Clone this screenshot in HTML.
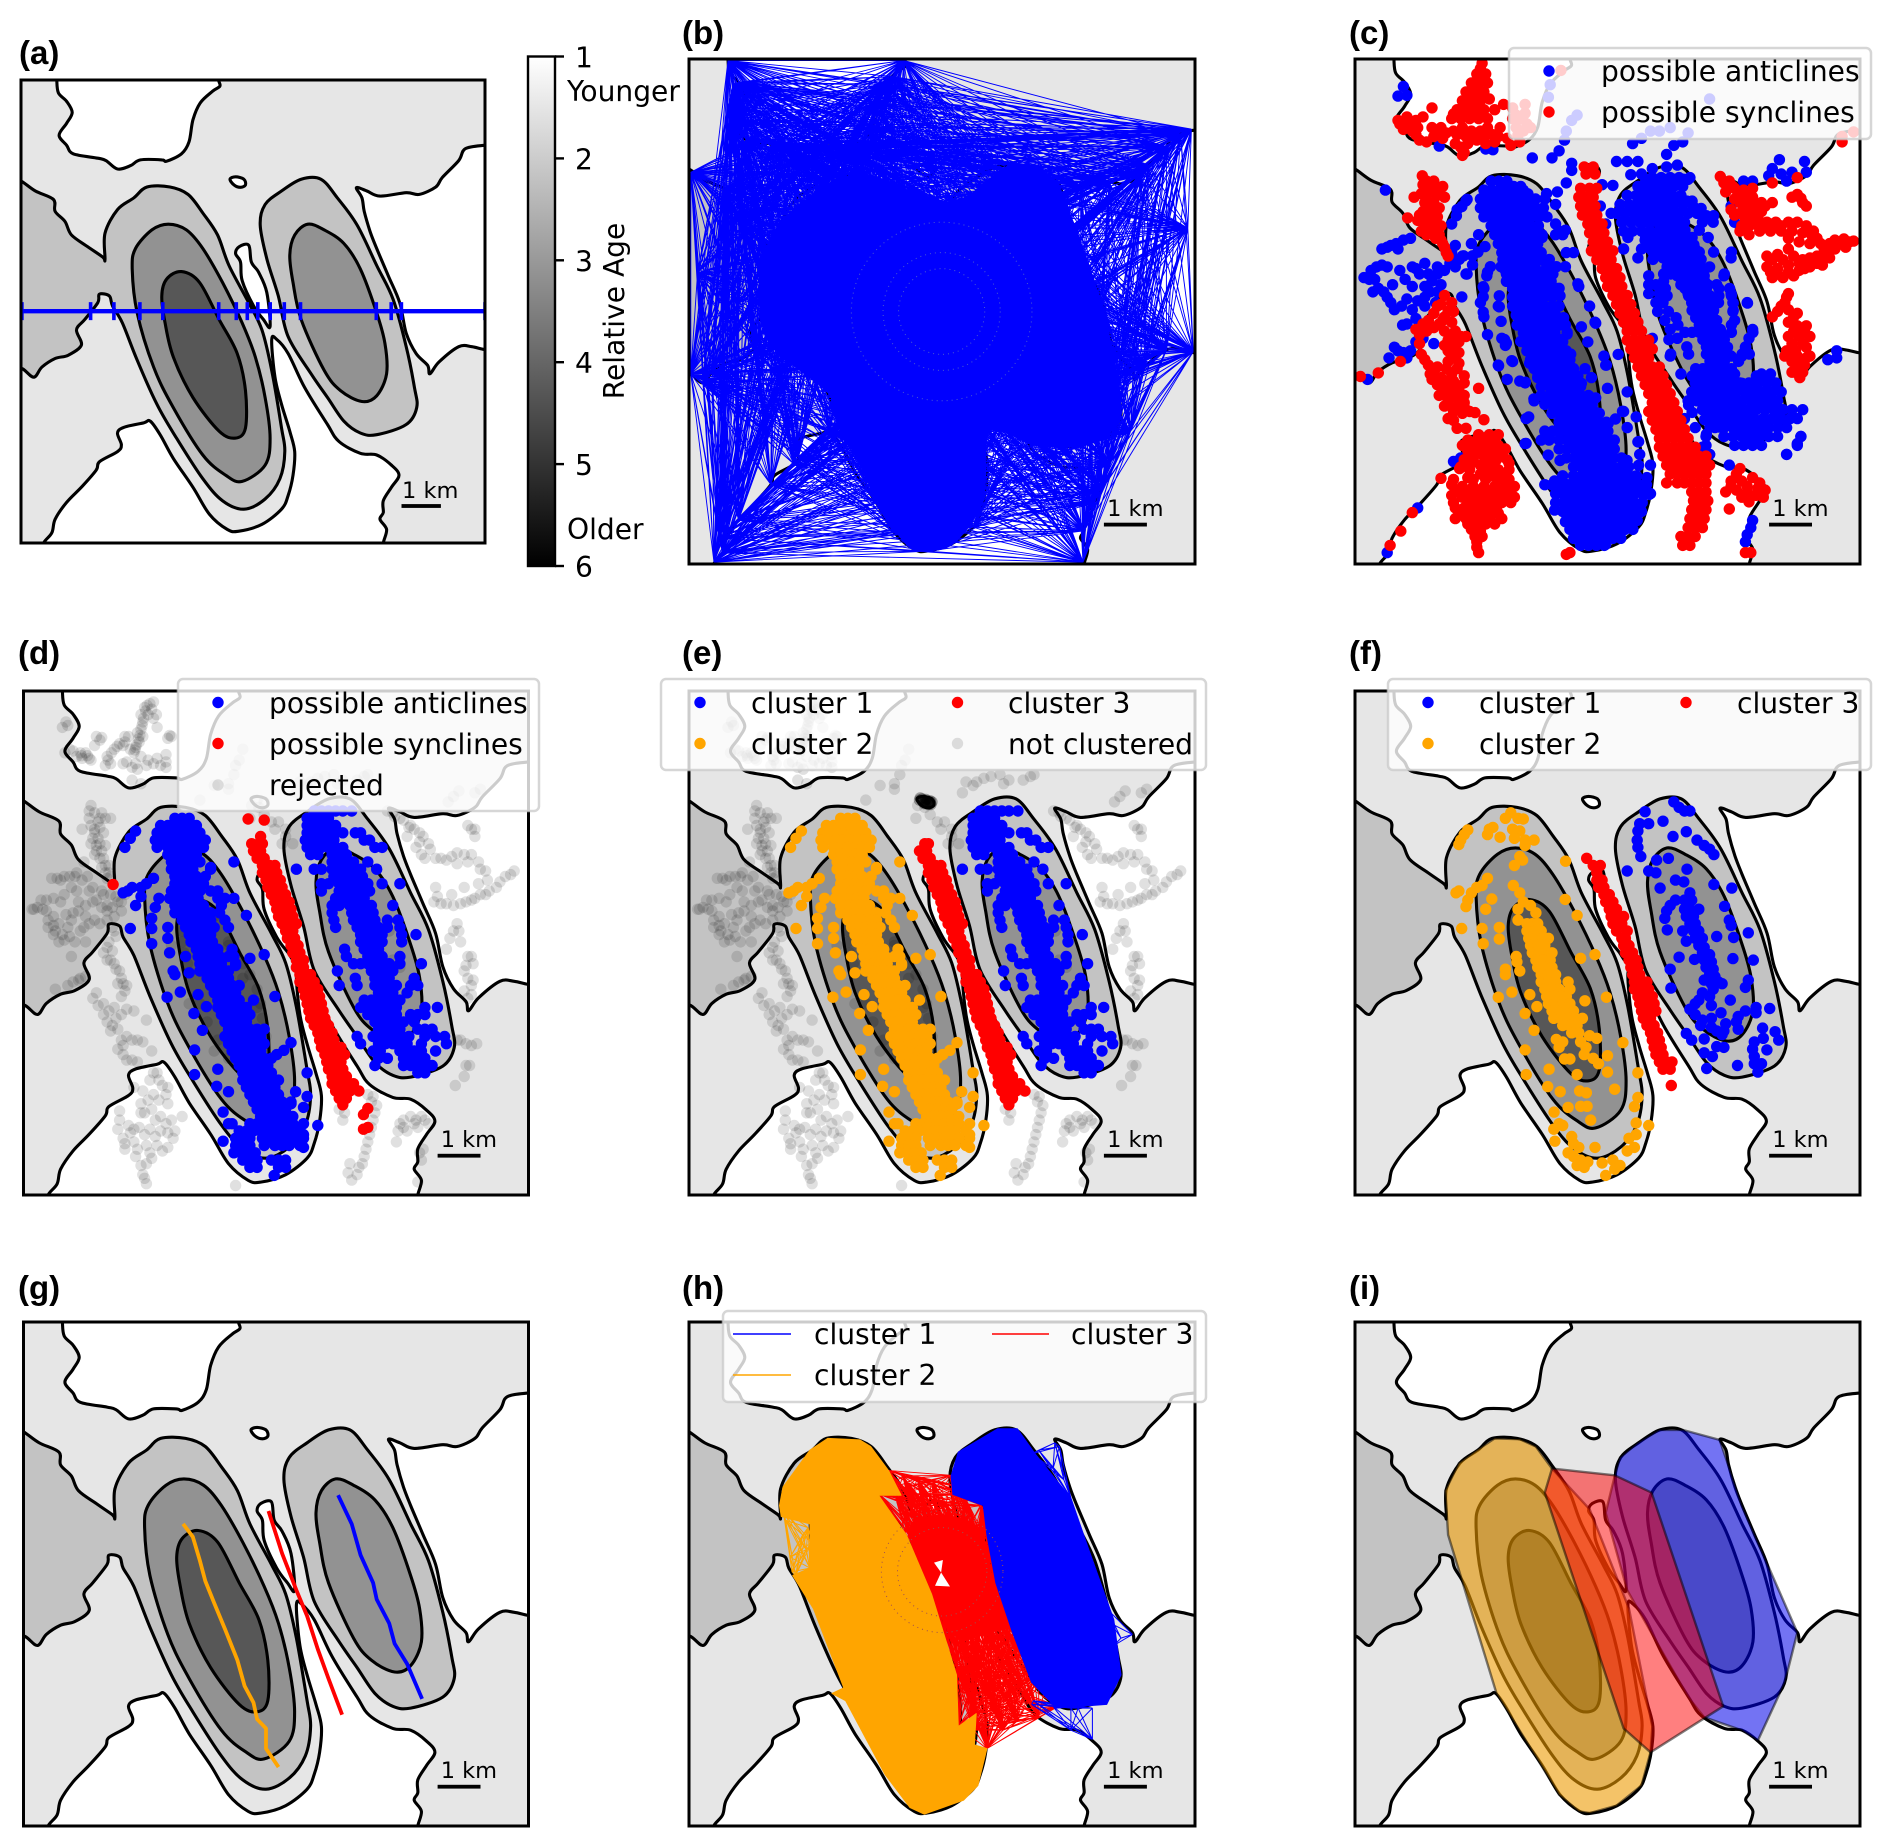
<!DOCTYPE html>
<html lang="en">
<head>
<meta charset="utf-8">
<title>Fold detection workflow panels</title>
<style>
html,body{margin:0;padding:0;background:#fff;}
svg{display:block;}
.lbl{font-family:"Liberation Sans",Arial,sans-serif;font-weight:700;font-size:33px;fill:#000;}
.t{font-family:"DejaVu Sans",sans-serif;font-size:28.1px;fill:#000;}
.leg{fill:#fff;fill-opacity:.8;stroke:#ccc;stroke-opacity:.8;stroke-width:2.5;}
.frame{fill:none;stroke:#000;stroke-width:3;}
</style>
</head>
<body>
<svg xmlns="http://www.w3.org/2000/svg" width="1892" height="1847" viewBox="0 0 1892 1847">
<defs>
<linearGradient id="cbar" x1="0" y1="0" x2="0" y2="1"><stop offset="0" stop-color="#fff"/><stop offset="1" stop-color="#000"/></linearGradient>
<clipPath id="clip-a"><rect x="21" y="80" width="464" height="463"/></clipPath>
<clipPath id="clip-b"><rect x="689" y="59" width="506" height="505"/></clipPath>
<clipPath id="clip-c"><rect x="1355" y="59" width="505" height="505"/></clipPath>
<clipPath id="clip-d"><rect x="23.5" y="691" width="505" height="504"/></clipPath>
<clipPath id="clip-e"><rect x="689" y="691" width="506" height="504"/></clipPath>
<clipPath id="clip-f"><rect x="1355" y="691" width="505" height="504"/></clipPath>
<clipPath id="clip-g"><rect x="23.5" y="1322" width="505" height="504"/></clipPath>
<clipPath id="clip-h"><rect x="689" y="1322" width="506" height="504"/></clipPath>
<clipPath id="clip-i"><rect x="1355" y="1322" width="505" height="504"/></clipPath>
</defs>

<g>
<g id="marks-a" clip-path="url(#clip-a)"></g>
<rect class="frame" x="21" y="80" width="464" height="463"/>
<text class="lbl" x="19" y="64">(a)</text>
</g>

<g>
<rect x="528" y="56.5" width="27" height="509.5" fill="url(#cbar)" stroke="#000" stroke-width="2.4"/>
<g id="cbar-ticks"></g>
<text class="t" x="567" y="101">Younger</text>
<text class="t" x="567" y="539">Older</text>
<text class="t" transform="translate(624,311) rotate(-90)" text-anchor="middle">Relative Age</text>
</g>

<g>
<g id="marks-b" clip-path="url(#clip-b)"></g>
<rect class="frame" x="689" y="59" width="506" height="505"/>
<text class="lbl" x="682" y="44">(b)</text>
</g>

<g>
<g id="marks-c" clip-path="url(#clip-c)"></g>
<rect class="frame" x="1355" y="59" width="505" height="505"/>
<text class="lbl" x="1349" y="44">(c)</text>
<g>
<rect class="leg" x="1509" y="48" width="362" height="91" rx="5"/>
<circle cx="1549" cy="71" r="5.7" fill="#00f"/>
<text class="t" x="1601" y="81">possible anticlines</text>
<circle cx="1549" cy="112" r="5.7" fill="#f00"/>
<text class="t" x="1601" y="122">possible synclines</text>
</g>
</g>

<g>
<g id="marks-d" clip-path="url(#clip-d)"></g>
<rect class="frame" x="23.5" y="691" width="505" height="504"/>
<text class="lbl" x="18" y="664">(d)</text>
<g>
<rect class="leg" x="178" y="679" width="361" height="132" rx="5"/>
<circle cx="218" cy="702.5" r="5.7" fill="#00f"/>
<text class="t" x="269" y="713">possible anticlines</text>
<circle cx="218" cy="743.5" r="5.7" fill="#f00"/>
<text class="t" x="269" y="754">possible synclines</text>
<circle cx="218" cy="785" r="5.7" fill="#000" fill-opacity=".12"/>
<text class="t" x="269" y="795">rejected</text>
</g>
</g>

<g>
<g id="marks-e" clip-path="url(#clip-e)"></g>
<rect class="frame" x="689" y="691" width="506" height="504"/>
<text class="lbl" x="682" y="664">(e)</text>
<g>
<rect class="leg" x="661" y="679" width="545" height="91" rx="5"/>
<circle cx="700" cy="702.5" r="5.7" fill="#00f"/>
<text class="t" x="751" y="713">cluster 1</text>
<circle cx="700" cy="743.5" r="5.7" fill="#ffa500"/>
<text class="t" x="751" y="754">cluster 2</text>
<circle cx="957.5" cy="702.5" r="5.7" fill="#f00"/>
<text class="t" x="1008" y="713">cluster 3</text>
<circle cx="957.5" cy="743.5" r="5.7" fill="#000" fill-opacity=".12"/>
<text class="t" x="1008" y="754">not clustered</text>
</g>
</g>

<g>
<g id="marks-f" clip-path="url(#clip-f)"></g>
<rect class="frame" x="1355" y="691" width="505" height="504"/>
<text class="lbl" x="1349" y="664">(f)</text>
<g>
<rect class="leg" x="1388" y="679" width="483" height="91" rx="5"/>
<circle cx="1428" cy="702.5" r="5.7" fill="#00f"/>
<text class="t" x="1479" y="713">cluster 1</text>
<circle cx="1428" cy="743.5" r="5.7" fill="#ffa500"/>
<text class="t" x="1479" y="754">cluster 2</text>
<circle cx="1686" cy="702.5" r="5.7" fill="#f00"/>
<text class="t" x="1737" y="713">cluster 3</text>
</g>
</g>

<g>
<g id="marks-g" clip-path="url(#clip-g)"></g>
<rect class="frame" x="23.5" y="1322" width="505" height="504"/>
<text class="lbl" x="18" y="1299">(g)</text>
</g>

<g>
<g id="marks-h" clip-path="url(#clip-h)"></g>
<rect class="frame" x="689" y="1322" width="506" height="504"/>
<text class="lbl" x="682" y="1299">(h)</text>
<g>
<rect class="leg" x="723" y="1311" width="483" height="91" rx="5"/>
<line x1="733" x2="791" y1="1334" y2="1334" stroke="#00f" stroke-width="1.5"/>
<text class="t" x="814" y="1344">cluster 1</text>
<line x1="733" x2="791" y1="1375" y2="1375" stroke="#ffa500" stroke-width="1.5"/>
<text class="t" x="814" y="1385">cluster 2</text>
<line x1="992" x2="1049" y1="1334" y2="1334" stroke="#f00" stroke-width="1.5"/>
<text class="t" x="1071" y="1344">cluster 3</text>
</g>
</g>

<g>
<g id="marks-i" clip-path="url(#clip-i)"></g>
<rect class="frame" x="1355" y="1322" width="505" height="504"/>
<text class="lbl" x="1349" y="1299">(i)</text>
</g>
</svg>

<script>
// ---------- map contours ----------
const contourTopWhite=[[175,115],[175,142],[180,180],[205,205],[222,238],[205,270],[182,305],[205,335],[225,360],[300,373],[325,380],[360,405],[400,395],[430,378],[495,378],[510,382],[555,360],[578,325],[590,260],[612,210],[650,175],[672,160],[668,142],[668,115]];
const contourRightWhite=[[1510,335],[1478,335],[1420,345],[1400,380],[1350,430],[1330,458],[1280,480],[1240,475],[1160,485],[1120,470],[1088,460],[1105,490],[1112,530],[1130,590],[1150,640],[1185,720],[1220,800],[1240,890],[1270,950],[1305,985],[1312,1010],[1340,975],[1400,930],[1440,930],[1478,938],[1510,938]];
const contourBottomWhite=[[135,1540],[135,1510],[160,1480],[170,1440],[205,1390],[250,1345],[295,1295],[305,1270],[360,1240],[372,1220],[360,1185],[380,1168],[440,1155],[460,1150],[490,1190],[530,1260],[590,1345],[640,1425],[695,1470],[730,1475],[800,1455],[860,1410],[880,1370],[895,1310],[900,1240],[885,1180],[860,1100],[840,1020],[830,910],[845,908],[880,950],[930,1050],[1000,1160],[1035,1210],[1100,1245],[1150,1250],[1195,1280],[1218,1310],[1195,1345],[1170,1385],[1170,1420],[1160,1440],[1180,1470],[1170,1510],[1170,1540]];
const contourWedge=[[720,655],[730,635],[760,630],[768,680],[790,710],[815,770],[825,870],[805,850],[775,810],[740,735],[735,680]];
const contourEllipse=[[703,435],[720,428],[745,435],[750,452],[735,459],[715,452]];
const contourLeftFold=[[30,425],[66,440],[110,470],[165,495],[170,530],[200,560],[220,600],[270,635],[315,665],[322,672],[322,595],[360,525],[410,490],[450,458],[520,458],[575,480],[620,535],[665,600],[700,690],[760,800],[800,880],[830,1000],[860,1170],[870,1240],[855,1320],[810,1380],[745,1410],[680,1385],[620,1320],[540,1200],[480,1100],[420,970],[375,860],[345,810],[335,780],[305,775],[300,800],[260,850],[235,880],[250,925],[210,955],[170,965],[130,990],[105,1020],[70,995],[30,985]];
const contourRightFold=[[795,570],[810,510],[860,470],[920,435],[980,435],[1030,490],[1090,570],[1150,690],[1200,790],[1240,930],[1265,1050],[1272,1110],[1240,1160],[1150,1190],[1100,1185],[1050,1150],[1000,1080],[950,1010],[880,900],[850,780],[815,670]];
const contourLeftMid=[[405,700],[415,640],[465,585],[515,568],[570,585],[620,640],[680,740],[740,860],[780,960],[810,1080],[825,1200],[810,1280],[740,1328],[690,1310],[620,1250],[530,1110],[470,990],[420,830]];
const contourRightMid=[[885,660],[900,600],[940,568],[990,585],[1050,625],[1100,700],[1150,830],[1175,920],[1180,1010],[1150,1075],[1105,1092],[1040,1060],[990,1000],[920,850],[895,740]];
const contourLeftCore=[[495,780],[510,730],[555,708],[610,740],[670,850],[725,950],[750,1060],[750,1170],[720,1200],[670,1180],[590,1080],[530,960],[505,860]];

// ---------- panel a: section ----------
const sectionCrossings=[50,206,259,318,370,497,537,562,586,614,646,683,855,889,912,1102];
const colorbarTicks=[1,2,3,4,5,6];

// ---------- panel b: pairwise mesh ----------
const meshCoreB=[[250,640],[330,530],[520,430],[780,510],[960,405],[1080,440],[1140,560],[1170,640],[1230,820],[1280,1080],[1250,1150],[1170,1190],[1030,1190],[900,1150],[880,1340],[800,1460],[720,1485],[660,1470],[590,1370],[520,1240],[440,1090],[430,1040],[260,900],[230,740]];
const meshNodesB=[[175,146],[184,305],[225,360],[300,373],[360,405],[430,378],[510,382],[578,325],[612,210],[666,146],[1470,332],[1400,380],[1330,458],[1240,475],[1160,485],[1112,530],[1150,640],[1220,800],[1270,950],[1475,935],[1400,930],[1167,1505],[1170,1420],[1195,1345],[1218,1310],[136,1505],[205,1390],[295,1295],[372,1220],[460,1150],[640,1425],[730,1475],[860,1410],[71,995],[130,990],[250,925],[300,800],[71,449],[165,495],[220,600],[315,670],[190,210],[175,270],[640,190],[1440,345],[1460,600],[1300,1150],[1240,1240],[150,1440],[90,720],[205,205],[325,380],[495,378],[590,260],[1350,430],[1185,720],[1340,975],[160,1480],[360,1240],[590,1345],[105,1020],[200,560]];
const meshHullB=[[175,146],[666,146],[1470,332],[1475,935],[1167,1505],[136,1505],[71,995],[71,449],[200,470],[184,305]];
const meshRingsB=[[170,165],[125,120],[262,250]];

// ---------- scatter rows: [y, x, x, ...] in panel-d reading coordinates ----------
const anticlineLeftRows=[[490,490,510,530],[510,450,470,490,510,530,550],[530,440,460,480,500,520,540,560],[550,435,455,475,495,515,535,555,575],[570,440,470,490,510,530,550,570],[590,470,490,510,530,550],[610,480,500,520,540,560],[630,480,500,520,540,590],[650,490,510,530,550,575],[670,490,510,530,550,570],[690,480,500,520,540,560,590,610],[710,475,495,515,535,555,610,630,655],[730,490,510,530,550,570,620],[750,490,510,530,550,570,590,615],[770,510,530,550,570,590,630],[790,520,540,560,580,600,640],[810,530,550,570,590],[830,535,555,575,595],[850,550,570,590,610,650],[870,555,575,595,615,640,655],[890,560,580,600,620,660],[910,560,580,600,620,640],[930,580,600,620,640],[950,590,610,630,650,670],[970,600,620,640,660],[990,610,630,650,670],[1010,610,630,650,670,690],[1030,620,640,660,680,700],[1050,630,650,670,690],[1070,640,660,680,700,720,740],[1090,630,650,670,690,710,730],[1110,640,660,680,700,720,740],[1130,650,670,690,710,730],[1150,660,680,700,720,740,760],[1170,670,690,710,730,750],[1190,680,700,720,740,760],[1210,680,700,720,740,760,780],[1230,690,710,730,750,770],[1250,700,720,740,760,780],[1270,710,730,750,770,790,815],[1290,720,740,760,780,800],[1310,730,750,770,790,820],[1330,650,700,720,740,760,780,800,820,850],[1350,670,690,710,730,750,770,790,810,840],[1370,660,680,700,735,760,780,800,820,850],[1390,660,680,700,740,770,790,810,840],[1410,655,675,695,715],[1430,680,700,720,760,780,800],[1450,700,720,780,800]];
const anticlineLeftOutliers=[[380,525],[365,545],[350,570],[358,690],[345,695],[370,680],[395,680],[410,670],[430,655],[380,730],[395,705],[445,710],[435,735],[425,765],[365,793],[425,793],[425,835],[470,790],[470,820],[475,860],[485,910],[490,920],[530,915],[520,870],[505,968],[468,982],[555,975],[578,1008],[543,1027],[567,1073],[545,1127],[545,1195],[610,1180],[607,1227],[640,1242],[625,1298],[625,1378],[640,1330],[655,610],[690,757],[740,865],[700,875],[770,980],[710,990],[660,895],[815,1107],[795,1128],[775,1140],[860,1190],[828,1242],[860,1255],[850,1285],[890,1335],[850,1360],[850,1395],[815,1275],[768,1472],[590,625]];
const anticlineRightRows=[[470,880,900,920,940,960,985],[490,860,880,900,920],[510,860,880,900,920,940],[530,860,880,900,920,940,960,995,1010],[550,855,875,895,915,935,1020,1035],[570,860,880,900,920,940,960,1050,1070],[590,870,890,930,950,970],[610,930,950,970,990,1030],[630,830,880,900,930,950,970,990,1010,1055],[650,935,955,975,995,1015],[670,900,920,950,970,990,1010,1030,1070,1120],[690,900,950,970,990,1010,1035],[710,940,960,980,1000,1020],[730,930,950,980,1000,1020,1040,1100],[750,930,985,1005,1025,1045],[770,935,990,1010,1030,1050,1085,1115],[790,940,1000,1020,1040,1060,1085,1120],[810,1010,1030,1050,1070,1125,1165],[830,1010,1030,1050,1070,1125],[850,965,1020,1040,1060],[870,970,1030,1050,1070,1120],[890,990,1010,1030,1050,1070,1090,1120,1180],[910,945,1040,1060,1080,1100],[930,995,1050,1070,1090,1160],[950,950,1000,1050,1070,1090,1110,1150,1170],[970,1060,1080,1100,1140],[990,1020,1040,1060,1080,1100,1120],[1010,1010,1030,1050,1070,1090,1110,1190,1225],[1030,1030,1050,1070,1090,1110,1150,1170,1190],[1050,1050,1070,1090,1110,1130,1160],[1070,1060,1080,1100,1120,1170,1190,1210],[1090,1000,1045,1065,1085,1105,1125,1145,1190,1220,1245],[1110,1010,1060,1080,1100,1120,1140,1180,1250],[1130,1045,1065,1120,1140,1160,1180,1220],[1150,1060,1085,1130,1150,1170,1190],[1170,1050,1130,1150,1170,1190,1210],[1190,1170,1190]];
const synclineRows=[[560,725,735],[580,710,730],[600,720,740],[620,735,755,770],[640,735,755,775],[660,745,765,785],[680,750,770,790],[700,760,780,800],[720,770,790,810],[740,775,795,815],[760,780,800,820],[780,790,810,830],[800,800,820],[820,805,825],[840,815,835],[860,820,840],[880,830,850],[900,830,850],[920,840,860,870],[940,840,860,880],[960,850,870,890],[980,855,875,895],[1000,860,880,900],[1020,865,885,905],[1040,870,890,910],[1060,880,900,920],[1080,890,910,930],[1100,895,915,935],[1120,900,920,940,955],[1140,910,930,950,965],[1160,915,935,955],[1180,920,940,960],[1200,930,950,970],[1220,930,950,970,990],[1240,940,960,980,1005],[1260,950,970],[1278,960]];
const synclineExtrasD=[[695,492],[740,495],[730,540],[705,560],[1030,1288],[1018,1305],[1018,1345],[1030,1340],[317,672]];
const rejectedPoints=[[430,170],[420,175],[405,185],[395,205],[415,205],[430,215],[400,225],[395,245],[385,255],[400,265],[390,280],[380,295],[375,310],[440,240],[475,262],[360,265],[350,280],[335,285],[320,300],[300,320],[310,340],[280,275],[265,290],[240,310],[225,310],[205,305],[190,235],[250,325],[230,325],[355,335],[380,340],[410,345],[440,325],[465,315],[465,350],[370,385],[395,395],[255,455],[285,475],[250,490],[275,500],[265,520],[290,530],[230,520],[310,490],[260,545],[270,565],[285,580],[265,590],[290,600],[305,620],[295,640],[235,610],[215,640],[180,650],[160,655],[200,680],[150,710],[130,715],[95,740],[120,740],[135,770],[155,800],[180,825],[200,870],[215,690],[220,720],[250,690],[270,715],[300,730],[330,720],[260,720],[240,760],[200,770],[225,800],[190,790],[320,760],[340,745],[320,800],[305,830],[290,860],[310,880],[325,905],[340,930],[350,965],[220,935],[270,970],[290,1000],[320,1010],[340,1030],[375,1020],[410,1045],[300,1050],[310,1075],[340,1100],[370,1100],[400,1105],[425,1130],[330,1125],[355,1155],[385,1160],[430,1190],[445,1210],[470,1230],[400,1240],[430,1250],[470,1275],[395,1275],[425,1290],[450,1310],[480,1320],[510,1310],[335,1320],[360,1335],[390,1340],[420,1345],[450,1350],[345,1370],[375,1380],[410,1390],[440,1390],[350,1400],[380,1420],[410,1440],[400,1470],[410,1495],[490,1350],[470,1395],[1120,490],[1150,510],[1175,530],[1200,560],[1165,570],[1190,600],[1220,600],[1250,605],[1280,585],[1310,510],[1330,540],[1320,590],[1340,610],[1360,635],[1440,635],[1415,650],[1390,680],[1360,700],[1320,715],[1290,725],[1250,725],[1215,720],[1220,680],[1300,680],[1340,670],[1280,780],[1260,820],[1250,850],[1290,830],[1320,870],[1300,910],[1320,950],[1310,985],[1280,1100],[1320,1115],[1305,1170],[1275,1225],[1040,1270],[1050,1300],[1040,1340],[1030,1380],[1020,1420],[1005,1450],[980,1440],[985,1485],[950,1290],[960,1320],[1120,1330],[1150,1310],[1180,1310],[1200,1330],[1140,1350],[1110,1380],[1180,1430],[1170,1490],[660,1500],[1000,1240],[720,440],[740,445],[660,345],[680,300],[640,410],[600,400],[560,440],[700,490],[780,500],[800,520],[820,560],[1030,370],[1000,385],[960,385],[890,380],[860,400],[830,420],[1100,475],[1270,430],[1330,420],[600,760],[640,840],[680,930],[720,1010],[740,1080],[1090,800],[1120,900],[480,840],[530,1000],[600,1130]];
const rejectedTrails=[[412,180],[408,195],[402,215],[398,235],[392,262],[388,272],[382,288],[378,302],[425,190],[438,205],[345,290],[328,292],[312,310],[303,330],[295,345],[270,265],[285,268],[195,300],[182,310],[215,320],[228,318],[245,318],[255,330],[470,270],[480,265],[350,265],[365,300],[395,320],[430,340],[450,345],[465,335],[415,330],[345,340],[370,350],[385,355],[185,225],[175,240],[250,470],[265,475],[280,490],[295,490],[255,510],[280,515],[265,530],[275,545],[280,560],[295,565],[255,560],[270,580],[280,600],[295,620],[305,640],[310,650],[300,655],[285,625],[145,655],[170,660],[195,650],[210,650],[230,660],[245,650],[260,680],[285,690],[290,700],[310,700],[325,705],[315,735],[300,745],[285,735],[340,720],[350,700],[115,715],[105,735],[90,740],[130,745],[150,760],[165,780],[175,810],[195,815],[210,830],[165,830],[150,785],[135,790],[240,730],[220,745],[205,750],[185,755],[235,790],[250,780],[265,770],[280,780],[300,770],[180,700],[170,720],[240,830],[150,810],[315,790],[325,815],[300,845],[315,855],[300,880],[320,890],[335,910],[330,945],[345,945],[355,950],[340,980],[225,930],[240,925],[205,940],[190,950],[155,960],[260,985],[275,1005],[305,1020],[325,1040],[355,1015],[290,1030],[315,1060],[330,1070],[355,1090],[385,1100],[345,1115],[345,1140],[370,1155],[440,1190],[420,1210],[455,1225],[465,1250],[415,1265],[445,1265],[405,1300],[435,1320],[465,1330],[395,1300],[375,1345],[405,1360],[435,1365],[470,1355],[365,1355],[350,1385],[385,1400],[420,1410],[395,1445],[405,1480],[330,1345],[335,1295],[485,1370],[455,1405],[425,1425],[375,1230],[1105,485],[1130,495],[1145,515],[1160,520],[1185,540],[1205,575],[1175,555],[1140,540],[1180,590],[1235,600],[1265,595],[1300,590],[1280,615],[1310,610],[1330,520],[1320,520],[1345,630],[1365,660],[1400,665],[1430,645],[1370,690],[1345,700],[1330,710],[1305,720],[1270,730],[1235,725],[1225,705],[1265,700],[1285,800],[1270,800],[1310,870],[1325,890],[1305,895],[1310,930],[1325,935],[1300,965],[1320,975],[1290,1100],[1305,1110],[1335,1110],[1315,1170],[1300,1200],[1045,1255],[1055,1280],[1045,1320],[1035,1360],[1025,1400],[1015,1440],[1030,1250],[975,1465],[1000,1470],[1130,1320],[1165,1320],[1190,1320],[1130,1340],[1170,1340],[1185,1400],[1175,1410],[1160,1330],[1115,1350],[965,1300],[655,370],[670,330],[640,395],[705,455],[725,460],[740,480],[760,500],[770,520],[800,540],[790,560],[840,390],[870,390],[910,375],[935,370],[945,395],[1020,375],[1085,470],[1255,445],[1285,415],[1345,410],[510,800],[510,830],[515,860],[525,890],[640,830],[660,860],[680,890],[700,920],[720,960],[730,1000],[735,1040],[745,1090],[560,1000],[580,1050],[610,1100],[640,1150],[1100,880]];
const ellipseRejectedE=[[710,440],[718,437],[725,442],[732,445],[738,448],[745,445],[728,438],[720,445],[735,452],[742,452],[712,434],[724,450],[730,443],[740,442]];

// ---------- panel c extras (read in panel-c coordinates) ----------
const cBlueLeftRows=[[450,450,472,494],[475,430,452,474,496,518,540],[500,420,442,464,486,508,530,552,574,600],[525,420,442,464,486,508,530,552,574,596],[550,430,452,474,496,518,540,562,584,606],[575,450,472,494,516,538,560,582],[600,460,482,504,526,548,570,592,630,650],[625,470,492,514,536,558,580],[650,480,502,524,546,568,590,660,680],[675,490,512,534,556,578,600],[700,490,512,534,556,578,600],[725,500,522,544,566,588,610],[750,510,532,554,576,598,620,640],[775,510,532,554,576,598,620],[800,510,532,554,576,598,620,640],[825,520,542,564,586,608,630],[850,530,552,574,596,618,640],[875,540,562,584,606,628],[900,540,562,584,606,628,650],[925,550,572,594,616,638,660],[950,560,582,604,626,648,670],[975,570,592,614,636,658,680],[1000,580,602,624,646,668,690],[1025,590,612,634,656,678,700],[1050,590,612,634,656,678,700,722],[1075,600,622,644,666,688,710,732],[1100,620,642,664,686,708,730,752],[1125,640,662,684,706,728,750,772],[1150,600,622,644,666,688,710,732,754,776],[1175,590,612,640,662,684,706,728,750,772,794],[1200,640,662,684,706,728,750,772,794],[1225,660,682,704,726,748,770,792,814],[1250,680,702,724,746,768,790,812,834],[1275,650,680,702,724,746,768,790,812,834,856],[1300,620,642,664,686,708,730,752,774,796,818,840,862,884],[1325,630,652,674,696,718,740,762,784,806,828,850,872,895],[1350,630,652,674,696,718,740,762,784,806,828,850,872],[1375,650,672,694,716,738,760,782,804,826,848,870],[1400,660,682,704,726,748,770,792,814,836,858],[1425,670,692,714,736,758,780,802,824,846],[1450,680,702,724,746,768,790,812],[1470,700,722,744,766]];
const cBlueRightRows=[[440,900,925,950,975],[465,860,885,910,935,960,985],[490,830,855,880,905,930,955,980],[515,810,835,860,885,910,935,960,985,1010],[540,800,825,850,875,900,925,950,975,1000,1025],[565,815,840,865,890,915,940,965,990,1040,1070],[590,820,845,870,895,920,945,970],[615,880,905,930,955,980,1005],[640,820,870,895,920,945,970,995,1020],[665,860,930,955,980,1005,1030,1120],[690,960,985,1010,1035,1060],[715,890,970,995,1020,1045,1100],[740,890,910,980,1005,1030,1055,1080],[765,890,920,1000,1025,1050,1120],[790,910,930,1010,1035,1060,1085,1125,1165],[815,915,945,1020,1045,1070,1125],[840,935,1030,1055,1080,1130],[865,950,1040,1065,1090,1180],[890,900,970,1050,1075,1100,1170],[915,1060,1085,1110,1160],[940,950,1070,1095,1120,1150],[990,980,1030,1055,1080,1105,1130,1205,1230],[1015,1020,1045,1070,1095,1120,1145,1170,1195,1220,1245],[1040,1010,1035,1060,1085,1110,1135,1160,1185,1210,1235,1260],[1065,1000,1025,1050,1075,1100,1125,1150,1175,1200,1225,1250],[1090,1040,1065,1090,1115,1140,1165,1190,1215,1240,1265,1290,1320],[1115,990,1060,1085,1110,1135,1160,1185,1210,1235,1260,1285,1305],[1140,1020,1075,1100,1125,1150,1175,1200,1225,1250,1275],[1165,1050,1100,1125,1150,1175,1200,1225,1250,1315],[1190,1050,1130,1155,1180,1205,1305],[1215,1060,1275]];
const cBlueScatter=[[630,515],[630,570],[640,590],[695,745],[725,800],[740,845],[720,900],[765,940],[805,935],[770,965],[730,1000],[775,1030],[830,1040],[820,1095],[855,1110],[830,1140],[860,1180],[865,1215],[895,1245],[885,1280],[380,505],[355,530],[340,570],[415,600],[395,625],[370,660],[350,690],[380,710],[440,705],[430,750],[420,790],[470,800],[430,830],[440,880],[480,890],[490,910],[470,965],[510,955],[495,1005],[530,1010],[545,1015],[570,1065],[555,1110],[545,1185],[610,1155],[600,1300],[160,635],[185,625],[225,610],[130,690],[160,690],[95,720],[125,725],[135,750],[175,740],[230,690],[265,680],[300,690],[210,725],[250,710],[285,730],[320,700],[335,680],[160,775],[180,810],[215,780],[245,785],[265,775],[295,790],[203,853],[240,835],[290,905],[240,900],[215,945],[190,925],[165,945],[105,1005],[155,475],[350,630],[340,650],[205,185],[190,212],[215,210],[305,352],[435,360],[455,362],[565,385],[620,385],[640,365],[655,335],[660,310],[675,280],[690,265],[615,180],[610,215],[660,455],[635,480],[605,485],[675,400],[675,420],[760,460],[790,462],[800,395],[830,395],[860,395],[845,345],[870,330],[895,310],[920,310],[950,300],[1000,315],[940,375],[960,350],[985,340],[840,432],[870,430],[900,415],[940,410],[970,405],[1005,440],[1060,220],[755,520],[785,540],[770,570],[1000,445],[1180,1400],[1175,1420],[1165,1440],[1160,1460],[1390,950],[1415,925],[1415,945],[1305,1185],[1315,1165],[1275,1215],[1115,1245],[1060,1215],[1040,1195],[1255,390],[1235,415],[1225,435],[1260,430],[1275,450],[1290,425],[1325,395],[1330,425],[1155,450],[1180,450],[1120,520],[1130,565],[160,1490],[245,1365],[345,1235],[365,1225],[145,640],[170,630],[205,615],[115,700],[145,685],[110,725],[120,760],[150,760],[195,700],[240,695],[275,710],[300,710],[230,745],[265,745],[300,760],[200,800],[230,810],[265,800],[170,790],[215,850],[190,640],[310,740],[280,760],[180,915],[205,930],[225,925],[260,890]];
const cRedStripRows=[[410,710,735],[430,715,740],[470,700,725,745],[495,695,715,735],[520,700,720,740],[545,705,725,745],[570,720,740,760],[595,725,745,765],[620,735,755,775],[645,730,750,770,790],[670,745,765,785],[695,760,780,800],[720,770,790,810],[745,775,795,815],[770,790,810,830],[795,800,820,840],[820,810,830,850],[845,820,840,860],[870,830,850,870],[895,830,850,870,890],[920,840,860,880,900],[945,850,870,890],[970,860,880,900,920],[995,870,890,910,930],[1020,880,900,920,940],[1045,890,910,930,950],[1070,900,920,940,960],[1095,890,910,930,950,970],[1120,900,920,940,960,980],[1145,910,930,950,970,990],[1170,920,940,960,980,1000],[1195,920,940,960,980,1000,1020],[1220,930,950,970,990,1010,1030,1050],[1245,940,960,980,1000,1020,1040,1060],[1270,950,970,990,1010,1030,1050],[1295,940,970,990,1010,1030,1050],[1320,1010,1030,1050],[1345,1015,1035,1055],[1370,1010,1030,1050],[1395,1005,1025,1045],[1420,1000,1020,1040],[1445,980,1000,1020],[1470,985,1005]];
const cRedClusterRows=[[1175,385,410,435,460],[1205,385,410,435,460,485],[1230,375,400,435,465,495],[1258,390,435,470,500],[1285,345,400,435,470,500],[1320,350,385,415,445,475,505],[1350,345,385,420,450,480,505],[1380,360,395,425,455,470],[1410,385,410,435,460],[1445,405,425],[1475,410]];
const cRedScatter=[[425,120],[410,150],[435,150],[395,175],[415,175],[440,175],[380,200],[405,200],[430,200],[370,225],[395,225],[420,225],[445,220],[355,250],[380,250],[405,250],[430,250],[285,245],[340,275],[365,275],[390,275],[415,275],[440,275],[460,250],[485,235],[545,235],[510,245],[510,275],[535,275],[560,300],[520,300],[190,280],[215,270],[240,280],[260,270],[205,305],[230,310],[250,335],[285,300],[310,300],[290,325],[315,330],[345,310],[370,300],[395,310],[420,310],[440,300],[470,325],[350,345],[375,370],[385,345],[410,335],[435,345],[505,350],[530,340],[460,340],[645,140],[1430,325],[1462,312],[1430,340],[258,435],[260,460],[255,485],[290,450],[315,465],[320,495],[295,475],[235,495],[265,510],[290,510],[260,535],[285,535],[305,525],[217,553],[245,560],[270,565],[295,565],[255,590],[280,595],[305,600],[315,625],[325,650],[320,770],[340,790],[310,795],[330,815],[290,820],[315,840],[340,845],[260,850],[240,865],[290,860],[320,870],[350,870],[250,905],[330,895],[360,900],[380,885],[255,935],[330,925],[360,930],[275,965],[300,970],[330,955],[360,960],[280,990],[310,1000],[340,990],[375,995],[300,1020],[330,1025],[360,1030],[415,1030],[305,1050],[340,1050],[375,1050],[320,1080],[350,1085],[380,1090],[405,1098],[330,1115],[430,1118],[355,1142],[380,1142],[197,955],[135,987],[85,997],[415,1160],[445,1160],[470,1160],[370,1190],[395,1190],[420,1190],[445,1190],[470,1190],[490,1200],[395,1215],[425,1215],[450,1215],[480,1220],[500,1240],[365,1250],[390,1245],[420,1245],[450,1245],[485,1270],[420,1270],[450,1275],[385,1280],[340,1300],[370,1305],[400,1305],[430,1305],[460,1305],[490,1305],[515,1305],[340,1330],[370,1335],[400,1335],[430,1335],[460,1335],[490,1335],[515,1335],[350,1365],[375,1365],[405,1365],[435,1365],[465,1365],[350,1395],[380,1395],[410,1395],[440,1395],[480,1395],[395,1425],[420,1430],[410,1460],[415,1490],[310,1282],[362,1255],[230,1378],[198,1430],[168,1470],[660,1495],[670,1490],[1090,437],[1115,450],[1105,480],[1130,470],[1155,475],[1180,470],[1130,500],[1155,500],[1180,495],[1205,510],[1130,545],[1155,525],[1180,525],[1205,535],[1235,510],[1235,455],[1305,440],[1305,487],[1320,510],[1330,520],[1145,590],[1170,575],[1195,555],[1220,565],[1245,565],[1170,600],[1200,590],[1230,590],[1260,590],[1280,565],[1305,565],[1330,575],[1350,590],[1280,610],[1310,620],[1340,625],[1360,610],[1410,615],[1435,612],[1462,618],[1380,640],[1410,640],[1440,635],[1360,660],[1395,665],[1220,660],[1250,655],[1280,640],[1340,665],[1220,690],[1250,695],[1280,685],[1310,680],[1340,690],[1375,685],[1235,720],[1265,720],[1295,715],[1325,695],[1280,765],[1270,790],[1250,815],[1235,830],[1305,820],[1280,810],[1280,845],[1305,855],[1330,855],[1280,885],[1310,885],[1340,885],[1275,925],[1300,925],[1340,940],[1290,955],[1315,960],[1300,985],[1320,985],[1312,1000],[1145,1255],[1120,1290],[1150,1290],[1180,1280],[1105,1320],[1135,1315],[1165,1320],[1195,1310],[1215,1315],[1170,1348],[1210,1335],[1115,1368],[1175,1490],[1160,1490],[300,800],[320,830],[345,815],[275,840],[305,850],[250,880],[270,870],[345,880],[365,885],[345,910],[320,910],[265,950],[345,940],[290,980],[325,975],[355,975],[320,1010],[345,1010],[375,1015],[285,1005],[315,1040],[350,1040],[330,1065],[360,1065],[375,1070],[345,1095],[370,1100],[390,1095],[345,1120],[270,450],[275,475],[270,490],[300,490],[275,520],[250,545],[275,550],[300,550],[265,578],[290,580],[310,575],[270,600],[295,610],[310,615],[320,635],[330,660],[420,135],[425,165],[385,215],[405,215],[375,240],[395,240],[415,240],[345,262],[365,262],[390,262],[415,262],[195,290],[225,295],[245,300],[210,290],[240,320],[270,340],[300,315],[325,315],[355,320],[380,325],[405,325],[430,325],[455,320],[365,355],[370,378],[525,320],[540,310],[550,290],[495,330],[520,265],[545,260],[475,300],[1100,455],[1125,465],[1145,485],[1170,490],[1195,515],[1145,510],[1170,510],[1190,525],[1215,520],[1120,530],[1145,540],[1170,545],[1195,550],[1160,560],[1185,570],[1210,575],[1235,575],[1150,575],[1260,575],[1290,590],[1320,595],[1345,600],[1370,625],[1395,625],[1425,625],[1450,620],[1395,645],[1375,665],[1360,680],[1235,670],[1265,670],[1295,660],[1320,670],[1230,705],[1250,710],[1280,705],[1310,700],[1345,680],[1290,495],[1315,498],[1275,775],[1260,800],[1295,830],[1295,870],[1325,870],[1290,905],[1320,905],[1270,940],[1285,940],[1330,915],[1305,940],[1330,945],[1305,970],[1325,965],[1290,985],[1135,1270],[1165,1305],[1120,1305],[1150,1335],[1190,1330],[1200,1295]];

// ---------- panel f (read in panel-f coordinates) ----------
const fOrangePoints=[[385,522],[375,535],[365,550],[360,562],[445,520],[455,515],[440,535],[475,542],[490,490],[505,475],[525,490],[540,492],[510,520],[530,525],[515,545],[545,550],[570,550],[545,565],[530,595],[538,605],[515,620],[658,608],[360,690],[352,695],[440,655],[425,675],[410,680],[395,695],[385,715],[380,733],[452,712],[435,740],[512,675],[530,695],[540,720],[525,740],[525,770],[560,730],[575,750],[657,713],[690,757],[368,793],[425,793],[473,790],[473,822],[428,835],[520,870],[522,885],[530,910],[490,905],[490,920],[740,865],[700,875],[558,975],[508,968],[470,982],[578,1008],[545,1027],[772,982],[712,992],[570,1073],[632,1098],[650,1105],[640,1120],[725,1088],[745,1095],[700,1105],[715,1120],[710,1140],[818,1107],[545,1127],[775,1143],[670,1152],[655,1152],[735,1150],[750,1165],[690,1195],[775,1188],[612,1180],[548,1195],[860,1190],[608,1228],[643,1242],[697,1240],[716,1245],[795,1235],[860,1258],[850,1283],[665,1285],[700,1282],[718,1282],[626,1298],[728,1320],[855,1328],[890,1335],[640,1330],[625,1345],[650,1335],[855,1360],[835,1370],[675,1365],[628,1378],[680,1385],[695,1395],[665,1410],[740,1395],[850,1395],[830,1405],[680,1420],[700,1430],[720,1435],[690,1445],[710,1450],[760,1438],[790,1430],[810,1445],[795,1455],[770,1472]];
const fOrangeRows=[[780,550,565,580],[800,550,570,590],[820,555,575,595,610],[840,560,580,600],[860,565,585,605,620],[880,575,595,615],[900,580,600,620],[920,590,610,630],[940,590,610,630,665],[960,600,620,640,670],[980,605,625,645,660],[1000,610,630,650,670],[1020,620,640,660,680],[1040,625,645,665,685,705],[1060,650,670,690],[1080,675,695]];
const fBluePoints=[[880,472],[960,445],[975,460],[990,470],[1005,470],[865,505],[890,505],[930,498],[860,525],[858,550],[860,570],[868,595],[995,527],[958,540],[1025,550],[1045,565],[1060,575],[1072,590],[830,635],[890,635],[912,605],[945,600],[910,640],[997,630],[965,660],[988,665],[922,682],[1072,672],[1122,682],[1005,695],[990,715],[1010,715],[965,715],[950,730],[940,745],[935,765],[1030,740],[990,740],[1005,740],[995,760],[1015,760],[1005,780],[1020,780],[1030,800],[1015,800],[985,800],[995,828],[1020,820],[1040,820],[1030,840],[1045,845],[1040,860],[1060,865],[1045,880],[1065,885],[1050,900],[1070,905],[1060,920],[1075,925],[1045,935],[1065,945],[1085,940],[1095,945],[1070,960],[1040,970],[1060,980],[1030,990],[942,797],[1102,732],[1115,770],[1120,785],[1168,805],[1080,815],[1127,818],[975,872],[1018,878],[1125,876],[1182,880],[950,905],[1168,935],[1160,955],[952,957],[1118,990],[1065,1005],[1020,1000],[1005,1015],[1020,1030],[1190,1010],[1228,1013],[1190,1025],[1160,1020],[1092,1025],[1065,1040],[1040,1045],[1140,1035],[1135,1050],[1105,1055],[1035,1060],[1065,1065],[1140,1070],[1208,1067],[1100,1075],[1080,1075],[995,1082],[1010,1100],[1045,1097],[1095,1085],[1243,1077],[1185,1105],[1210,1095],[1253,1100],[1180,1125],[1220,1127],[1100,1120],[1080,1118],[1045,1135],[1068,1145],[1185,1145],[1138,1170],[1205,1165],[1185,1165],[1052,1178],[1195,1188]];
const fRedRows=[[600,717],[620,735,755],[640,745],[660,745,760],[680,750,765],[700,765,780],[720,770,790],[740,780,800],[760,785,805,820],[780,790,815],[800,800,830],[820,815,825],[840,820,835],[860,825,845],[880,835,855],[900,840,860],[920,845,865],[940,850,870,885],[960,850,870,890],[980,860,880,900],[1000,865,885,905],[1020,870,890,910],[1040,875,895],[1060,885,905],[1080,895,915],[1100,900,920],[1120,905,925],[1140,910,930],[1160,920,940,955],[1180,930,950],[1225,953]];

// ---------- panel g: fold axes ----------
const axisLeft=[[513,690],[540,725],[560,790],[575,845],[600,905],[630,975],[665,1060],[685,1130],[710,1175],[720,1220],[745,1245],[745,1300],[780,1350]];
const axisRight=[[947,612],[985,690],[1010,775],[1045,850],[1055,895],[1090,960],[1105,1015],[1140,1070],[1182,1165]];
const axisMiddle=[[752,655],[790,770],[830,870],[860,940],[890,1030],[920,1110],[958,1208]];

// ---------- panel h: cluster meshes (read in panel-h coordinates) ----------
const hRedNodes=[[640,545],[680,560],[720,565],[760,570],[815,558],[615,610],[660,620],[700,640],[750,660],[800,640],[850,610],[915,605],[835,1240],[880,1200],[915,1300],[960,1250],[1000,1225],[1060,1215],[1115,1185],[1090,1075],[1040,1040],[1000,1000],[960,1060],[880,1100],[830,1080],[900,900],[900,640],[870,690],[830,900],[960,900],[1060,1100],[1010,1120],[930,1130],[860,1160],[880,1250],[940,1200],[1000,1170]];
const hRedCore=[[700,700],[790,670],[890,700],[930,830],[975,960],[900,985],[815,985],[750,850]];
const hBowtieA=[[767,795],[792,788],[787,822]];
const hBowtieB=[[787,822],[812,860],[770,858]];
const hBlueCore=[[815,560],[835,495],[945,432],[1000,432],[1050,500],[1150,620],[1200,760],[1270,950],[1290,1100],[1250,1180],[1110,1190],[1040,1120],[985,980],[940,850],[915,720],[905,640],[820,610]];
const hBlueFringeTop=[[1040,500],[1060,490],[1105,470],[1118,480],[1130,570],[1100,540],[1150,620]];
const hBlueFringeRight=[[1322,990],[1270,1020],[1262,960],[1290,1000],[1250,920]];
const hBlueFringeBottom=[[1040,1180],[1150,1250],[1210,1275],[1170,1190],[1210,1190],[1150,1190],[1100,1185],[1045,1170]];
const hOrangeCore=[[335,640],[345,590],[420,490],[470,458],[560,462],[590,480],[640,545],[675,612],[612,612],[690,720],[760,880],[830,1100],[835,1240],[885,1205],[880,1290],[915,1300],[890,1400],[850,1440],[740,1478],[700,1460],[630,1370],[520,1170],[482,1150],[515,1135],[430,920],[372,830],[420,810],[420,690],[340,670]];
const hOrangeFringe=[[370,820],[365,780],[352,680],[415,700],[410,760],[420,810],[345,650],[400,720],[380,830],[425,740]];
const hRings=[[170,165],[125,120]];

// ---------- panel i: cluster hulls (read in panel-i coordinates) ----------
const hullOrange=[[322,600],[360,525],[410,490],[460,458],[530,460],[575,480],[620,540],[725,650],[835,920],[900,1240],[895,1310],[870,1400],[800,1455],[725,1475],[695,1470],[640,1425],[590,1345],[465,1150],[330,720]];
const hullRed=[[620,540],[795,558],[898,605],[1098,1185],[895,1310],[820,1245],[600,605]];
const hullBlue=[[795,560],[810,510],[860,470],[920,435],[985,435],[1088,462],[1112,530],[1150,640],[1305,985],[1270,1120],[1195,1278],[1150,1250],[1045,1215],[1000,1160],[900,990],[830,870],[770,660]];

// ---------- layout ----------
const frames={a:[21,80,464,463],b:[689,59,506,505],c:[1355,59,505,505],d:[23.5,691,505,504],e:[689,691,506,504],f:[1355,691,505,504],g:[23.5,1322,505,504],h:[689,1322,506,504],i:[1355,1322,505,504]};
const DOM_MAP=[66,1480,142,1510], DOM_D=[66,1480,140,1526], DOM_C=[70,1480,108,1522], DOM_F=[70,1480,140,1526], DOM_B=[27,1495,108,1522], DOM_H=[82,1497,142,1510], DOM_I=[70,1480,142,1510];
const NS='http://www.w3.org/2000/svg';
const GREY={light:'#e6e6e6',l3:'#c3c3c3',l4:'#929292',l5:'#575757'};
const CONTOUR_W=3.1;

function scale(panel,dom){
  const f=frames[panel];
  return {
    x:v=>f[0]+(v-dom[0])/(dom[1]-dom[0])*f[2],
    y:v=>f[1]+(v-dom[2])/(dom[3]-dom[2])*f[3]
  };
}
function rows(r){
  const out=[];
  r.forEach(row=>{for(let i=1;i<row.length;i++)out.push([row[i],row[0]]);});
  return out;
}
function smooth(pts,s){
  const n=pts.length,P=pts.map(p=>[s.x(p[0]),s.y(p[1])]);
  let d='M'+P[0][0].toFixed(1)+' '+P[0][1].toFixed(1);
  for(let i=0;i<n;i++){
    const p0=P[(i-1+n)%n],p1=P[i],p2=P[(i+1)%n],p3=P[(i+2)%n];
    d+='C'+(p1[0]+(p2[0]-p0[0])/6).toFixed(1)+' '+(p1[1]+(p2[1]-p0[1])/6).toFixed(1)+' '+(p2[0]-(p3[0]-p1[0])/6).toFixed(1)+' '+(p2[1]-(p3[1]-p1[1])/6).toFixed(1)+' '+p2[0].toFixed(1)+' '+p2[1].toFixed(1);
  }
  return d+'Z';
}
function straight(pts,s,close){
  return pts.map((p,i)=>(i?'L':'M')+s.x(p[0]).toFixed(1)+' '+s.y(p[1]).toFixed(1)).join('')+(close?'Z':'');
}
function addPath(g,d,fill,stroke,sw,name,extra){
  const el=document.createElementNS(NS,'path');
  el.setAttribute('d',d);
  el.setAttribute('fill',fill);
  el.setAttribute('stroke',stroke);
  el.setAttribute('stroke-width',sw);
  el.setAttribute('stroke-linejoin','round');
  
  
  if(extra)for(const k in extra)el.setAttribute(k,extra[k]);
  g.appendChild(el);
  return el;
}
function drawMap(g,panel){
  const s=scale(panel,DOM_MAP),f=frames[panel];
  addPath(g,'M'+f[0]+' '+f[1]+'h'+f[2]+'v'+f[3]+'h'+(-f[2])+'Z',GREY.light,'none',0,'map-background');
  addPath(g,smooth(contourTopWhite,s),'#fff','#000',CONTOUR_W,'contour-top-lowland');
  addPath(g,smooth(contourRightWhite,s),'#fff','#000',CONTOUR_W,'contour-right-lowland');
  addPath(g,smooth(contourBottomWhite,s),'#fff','#000',CONTOUR_W,'contour-bottom-lowland');
  addPath(g,smooth(contourLeftFold,s),GREY.l3,'#000',CONTOUR_W,'contour-left-fold-outer');
  addPath(g,smooth(contourRightFold,s),GREY.l3,'#000',CONTOUR_W,'contour-right-fold-outer');
  addPath(g,smooth(contourWedge,s),'#fff','#000',CONTOUR_W,'contour-central-wedge');
  addPath(g,smooth(contourEllipse,s),'#fff','#000',CONTOUR_W,'contour-small-closure');
  addPath(g,smooth(contourLeftMid,s),GREY.l4,'#000',CONTOUR_W,'contour-left-fold-middle');
  addPath(g,smooth(contourRightMid,s),GREY.l4,'#000',CONTOUR_W,'contour-right-fold-middle');
  addPath(g,smooth(contourLeftCore,s),GREY.l5,'#000',CONTOUR_W,'contour-left-fold-core');
}
function dots(g,pts,dom,panel,color,name,r,op){
  const s=scale(panel,dom);
  pts.forEach(p=>{
    const el=document.createElementNS(NS,'circle');
    el.setAttribute('cx',s.x(p[0]).toFixed(1));
    el.setAttribute('cy',s.y(p[1]).toFixed(1));
    el.setAttribute('r',r||5.7);
    el.setAttribute('fill',color);
    if(op)el.setAttribute('fill-opacity',op);
    
    
    g.appendChild(el);
  });
}
function meshPath(nodes,s,hull){
  let d='';
  for(let i=0;i<nodes.length;i++)for(let j=i+1;j<nodes.length;j++){
    const a=nodes[i],b=nodes[j];
    if(hull&&!inside(hull,[(a[0]+b[0])/2,(a[1]+b[1])/2]))continue;
    d+='M'+s.x(a[0]).toFixed(1)+' '+s.y(a[1]).toFixed(1)+'L'+s.x(b[0]).toFixed(1)+' '+s.y(b[1]).toFixed(1);
  }
  return d;
}
function inside(poly,p){
  let c=false;
  for(let i=0,j=poly.length-1;i<poly.length;j=i++){
    const a=poly[i],b=poly[j];
    if((a[1]>p[1])!==(b[1]>p[1])&&p[0]<(b[0]-a[0])*(p[1]-a[1])/(b[1]-a[1])+a[0])c=!c;
  }
  return c;
}
function scaleBar(g,panel){
  const f=frames[panel],h=panel==='a'?.92:.922;
  const bar=document.createElementNS(NS,'rect');
  bar.setAttribute('x',(f[0]+.82*f[2]).toFixed(1));
  bar.setAttribute('y',(f[1]+h*f[3]-1.9).toFixed(1));
  bar.setAttribute('width',(.085*f[2]).toFixed(1));
  bar.setAttribute('height',3.8);
  bar.setAttribute('fill','#000');
  
  
  g.parentNode.appendChild(bar);
  const t=document.createElementNS(NS,'text');
  t.setAttribute('x',(f[0]+.882*f[2]).toFixed(1));
  t.setAttribute('y',(f[1]+(h-.017)*f[3]).toFixed(1));
  t.setAttribute('text-anchor','middle');
  t.setAttribute('font-family','"DejaVu Sans",sans-serif');
  t.setAttribute('font-size','22.5');
  
  
  t.textContent='1 km';
  g.parentNode.appendChild(t);
}
const G=id=>document.getElementById('marks-'+id);

// panel a
(function(){
  const g=G('a');drawMap(g,'a');
  const s=scale('a',[48,1102,168,1464]),y=s.y(815);
  addPath(g,'M'+s.x(48)+' '+y+'H'+s.x(1102),'none','#00f',4.4,'section-line');
  sectionCrossings.forEach(c=>{
    addPath(g,'M'+s.x(c).toFixed(1)+' '+(y-9)+'v18','none','#00f',3.6,'section-crossing-tick');
  });
  scaleBar(g,'a');
  const tg=document.getElementById('cbar-ticks');
  const cy=v=>56.5+(v-1)/5*509.5;
  colorbarTicks.forEach(v=>{
    const l=document.createElementNS(NS,'line');
    l.setAttribute('x1',555);l.setAttribute('x2',564);
    l.setAttribute('y1',cy(v));l.setAttribute('y2',cy(v));
    l.setAttribute('stroke','#000');l.setAttribute('stroke-width',2.4);
    
    
    tg.appendChild(l);
    const t=document.createElementNS(NS,'text');
    t.setAttribute('x',575);t.setAttribute('y',cy(v)+11);
    t.setAttribute('class','t');
    
    
    t.textContent=v;
    tg.appendChild(t);
  });
})();

// panel b
(function(){
  const g=G('b');drawMap(g,'b');
  addPath(g,meshPath(meshNodesB,scale('b',DOM_MAP),meshHullB),'none','#00f',.95,'point-pair-mesh');
  const s=scale('b',DOM_B);
  addPath(g,smooth(meshCoreB,s),'#00f','#00f',1,'mesh-dense-core');
  const cx=s.x(760),cy=s.y(815),kx=s.x(1)-s.x(0),ky=s.y(1)-s.y(0);
  meshRingsB.forEach(r=>{
    const el=document.createElementNS(NS,'ellipse');
    el.setAttribute('cx',cx);el.setAttribute('cy',cy);
    el.setAttribute('rx',r[0]*kx);el.setAttribute('ry',r[1]*ky);
    el.setAttribute('fill','none');el.setAttribute('stroke','#4a5ad0');
    el.setAttribute('stroke-width',1);el.setAttribute('stroke-dasharray','1 4');
    
    
    g.appendChild(el);
  });
  scaleBar(g,'b');
})();

// panel c
(function(){
  const g=G('c');drawMap(g,'c');
  dots(g,rows(anticlineLeftRows).concat(anticlineLeftOutliers,rows(anticlineRightRows)),DOM_D,'c','#00f','possible-anticline');
  dots(g,rows(cBlueLeftRows).concat(rows(cBlueRightRows),cBlueScatter),DOM_C,'c','#00f','possible-anticline');
  dots(g,rows(cRedStripRows).concat(rows(cRedClusterRows),cRedScatter),DOM_C,'c','#f00','possible-syncline');
  scaleBar(g,'c');
})();

// panel d
(function(){
  const g=G('d');drawMap(g,'d');
  dots(g,rejectedPoints.concat(rejectedTrails),DOM_D,'d','#000','rejected-point',5.7,.12);
  dots(g,rows(anticlineLeftRows).concat(anticlineLeftOutliers,rows(anticlineRightRows)),DOM_D,'d','#00f','possible-anticline');
  dots(g,rows(synclineRows).concat(synclineExtrasD),DOM_D,'d','#f00','possible-syncline');
  scaleBar(g,'d');
})();

// panel e
(function(){
  const g=G('e');drawMap(g,'e');
  dots(g,rejectedPoints.concat(rejectedTrails,ellipseRejectedE,ellipseRejectedE,ellipseRejectedE),DOM_D,'e','#000','not-clustered-point',5.7,.12);
  dots(g,rows(anticlineRightRows),DOM_D,'e','#00f','cluster-1-point');
  dots(g,rows(anticlineLeftRows).concat(anticlineLeftOutliers),DOM_D,'e','#ffa500','cluster-2-point');
  dots(g,rows(synclineRows),DOM_D,'e','#f00','cluster-3-point');
  scaleBar(g,'e');
})();

// panel f
(function(){
  const g=G('f');drawMap(g,'f');
  dots(g,fBluePoints,DOM_F,'f','#00f','cluster-1-point');
  dots(g,fOrangePoints.concat(rows(fOrangeRows)),DOM_F,'f','#ffa500','cluster-2-point');
  dots(g,rows(fRedRows),DOM_F,'f','#f00','cluster-3-point');
  scaleBar(g,'f');
})();

// panel g
(function(){
  const g=G('g');drawMap(g,'g');
  const s=scale('g',DOM_MAP);
  addPath(g,straight(axisLeft,s),'none','#ffa500',3.8,'fold-axis-cluster-2');
  addPath(g,straight(axisRight,s),'none','#00f',3.8,'fold-axis-cluster-1');
  addPath(g,straight(axisMiddle,s),'none','#f00',3.8,'fold-axis-cluster-3');
  scaleBar(g,'g');
})();

// panel h
(function(){
  const g=G('h');drawMap(g,'h');
  const s=scale('h',DOM_H);
  addPath(g,meshPath(hRedNodes,s),'none','#f00',.9,'cluster-3-mesh');
  addPath(g,smooth(hRedCore,s),'#f00','#f00',1,'cluster-3-dense-core');
  addPath(g,straight(hBowtieA,s,true),'#fff','none',0,'cluster-3-mesh-gap');
  addPath(g,straight(hBowtieB,s,true),'#fff','none',0,'cluster-3-mesh-gap');
  addPath(g,meshPath(hBlueFringeTop,s),'none','#00f',1,'cluster-1-mesh-top');
  addPath(g,meshPath(hBlueFringeRight,s),'none','#00f',1,'cluster-1-mesh-right');
  addPath(g,meshPath(hBlueFringeBottom,s),'none','#00f',1,'cluster-1-mesh-bottom');
  addPath(g,straight(hBlueCore,s,true),'#00f','#00f',1,'cluster-1-dense-core');
  addPath(g,meshPath(hOrangeFringe,s),'none','#ffa500',1,'cluster-2-mesh');
  addPath(g,straight(hOrangeCore,s,true),'#ffa500','#ffa500',1,'cluster-2-dense-core');
  const cx=s.x(790),cy=s.y(820),kx=s.x(1)-s.x(0),ky=s.y(1)-s.y(0);
  hRings.forEach(r=>{
    const el=document.createElementNS(NS,'ellipse');
    el.setAttribute('cx',cx);el.setAttribute('cy',cy);
    el.setAttribute('rx',r[0]*kx);el.setAttribute('ry',r[1]*ky);
    el.setAttribute('fill','none');el.setAttribute('stroke','#a05050');
    el.setAttribute('stroke-width',1);el.setAttribute('stroke-dasharray','1 4');
    
    
    g.appendChild(el);
  });
  scaleBar(g,'h');
})();

// panel i
(function(){
  const g=G('i');drawMap(g,'i');
  const s=scale('i',DOM_I),edge='rgba(0,0,0,.5)';
  addPath(g,straight(hullBlue,s,true),'rgba(0,0,255,.5)',edge,2.4,'cluster-1-hull');
  addPath(g,straight(hullOrange,s,true),'rgba(255,165,0,.55)',edge,2.4,'cluster-2-hull');
  addPath(g,straight(hullRed,s,true),'rgba(255,0,0,.5)',edge,2.4,'cluster-3-hull');
  scaleBar(g,'i');
})();
</script>
</body>
</html>
